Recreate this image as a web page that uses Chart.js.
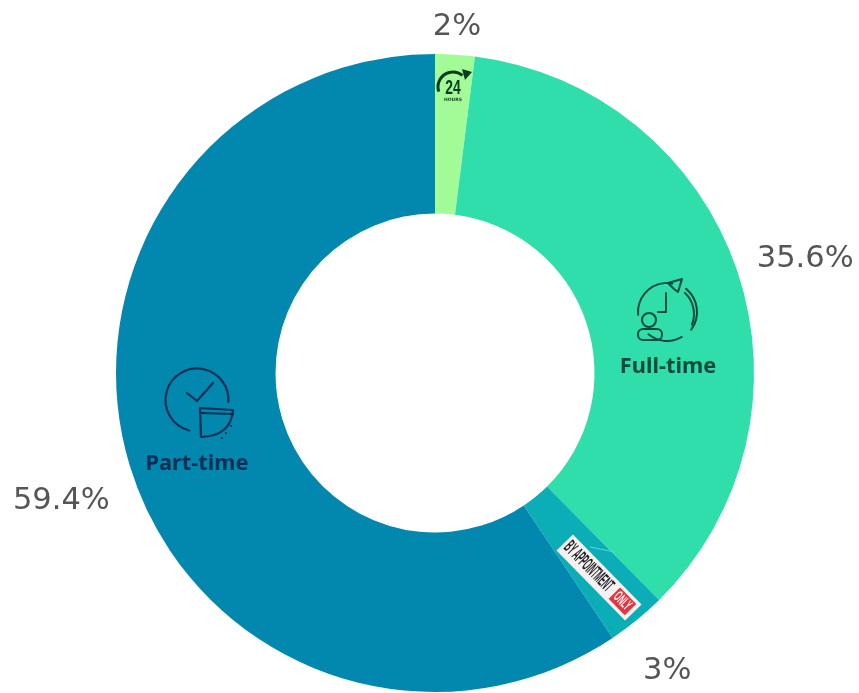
<!DOCTYPE html>
<html>
<head>
<meta charset="utf-8">
<style>html,body{margin:0;padding:0;background:#fff}canvas{display:block}</style>
<script src="https://cdn.jsdelivr.net/npm/chart.js@4/dist/chart.umd.min.js"></script>
</head>
<body>
<canvas id="c" width="859" height="693"></canvas>
<script>
const categories = ["24 hours", "Full-time", "By appointment only", "Part-time"];
const shares = [2, 35.6, 3, 59.4];
const valueLabels = ["2%", "35.6%", "3%", "59.4%"];
const sliceColors = ["#A3FB98", "#30DEAB", "#0BADB7", "#0288AE"];
const labelRadii = [349, 388, 376, 394];
const labelAngleNudges = [0, 1.3, 1.1, -1.6];

function icon24(ctx, x, y) {
  ctx.save();
  ctx.translate(x, y);
  ctx.strokeStyle = "#0c3b22"; ctx.fillStyle = "#0c3b22";
  ctx.lineWidth = 3;
  ctx.beginPath(); ctx.arc(0, 1, 15, Math.PI * 0.9, Math.PI * 1.72); ctx.stroke();
  ctx.beginPath(); ctx.moveTo(9, -17); ctx.lineTo(19, -14); ctx.lineTo(12, -6); ctx.closePath(); ctx.fill();
  ctx.save();
  ctx.translate(0, 3); ctx.scale(0.82, 1.15);
  ctx.font = 'bold 17px "Liberation Sans", sans-serif';
  ctx.textAlign = "center"; ctx.textBaseline = "middle";
  ctx.fillText("24", 0, 0);
  ctx.restore();
  ctx.font = 'bold 4.5px "DejaVu Sans", sans-serif';
  ctx.textAlign = "center"; ctx.textBaseline = "middle";
  ctx.fillText("HOURS", 0, 14);
  ctx.restore();
}

function iconFull(ctx, x, y) {
  ctx.save();
  ctx.translate(x, y);
  ctx.strokeStyle = "#0d4a3e"; ctx.lineWidth = 2; ctx.lineCap = "round"; ctx.lineJoin = "round";
  ctx.beginPath(); ctx.arc(0, 0, 29, Math.PI * 0.33, Math.PI * 0.72, false); ctx.stroke();
  ctx.beginPath(); ctx.arc(0, 0, 29, Math.PI * 0.97, Math.PI * 1.56, false); ctx.stroke();
  ctx.beginPath(); ctx.arc(0, 0, 30, Math.PI * 1.72, Math.PI * 0.2, false); ctx.stroke();
  ctx.beginPath(); ctx.arc(-2, 2, 29, Math.PI * 1.74, Math.PI * 0.12, false); ctx.stroke();
  ctx.beginPath(); ctx.moveTo(-1, -19); ctx.lineTo(-1, 0); ctx.lineTo(-9, 0); ctx.stroke();
  ctx.beginPath(); ctx.moveTo(1, -29); ctx.lineTo(15, -33); ctx.lineTo(11, -20); ctx.lineTo(7, -23); ctx.closePath(); ctx.stroke();
  ctx.beginPath(); ctx.arc(-18, 8, 7, 0, Math.PI * 2); ctx.stroke();
  ctx.beginPath(); ctx.roundRect(-29, 17, 24, 11, 5); ctx.stroke();
  ctx.restore();
}

function iconPart(ctx, x, y) {
  ctx.save();
  ctx.translate(x, y);
  ctx.strokeStyle = "#0b2f55"; ctx.lineWidth = 2.2; ctx.lineCap = "round"; ctx.lineJoin = "round";
  ctx.beginPath(); ctx.arc(0, 0, 31.5, Math.PI * 0.58, Math.PI * 2.02, false); ctx.stroke();
  ctx.beginPath(); ctx.moveTo(-10, -7); ctx.lineTo(0, 1); ctx.lineTo(16, -17); ctx.stroke();
  ctx.beginPath(); ctx.moveTo(3, 8); ctx.lineTo(4, 37); ctx.quadraticCurveTo(34, 36, 36, 10); ctx.closePath(); ctx.stroke();
  ctx.beginPath(); ctx.moveTo(4, 13); ctx.lineTo(36, 14); ctx.stroke();
  ctx.fillStyle = "#0b2f55";
  [[34, 26], [29, 33], [25, 38]].forEach(function (p) {
    ctx.beginPath(); ctx.arc(p[0], p[1], 1.1, 0, Math.PI * 2); ctx.fill();
  });
  ctx.restore();
}

function badge(ctx, x, y) {
  ctx.save();
  ctx.translate(x, y);
  ctx.rotate(Math.PI / 4 + 0.01);
  ctx.fillStyle = "#f6f1f1";
  ctx.fillRect(-49, -11.5, 98, 23);
  ctx.fillStyle = "#e8323f";
  ctx.fillRect(22, -8, 23, 16);
  ctx.textBaseline = "middle"; ctx.textAlign = "left";
  ctx.save();
  ctx.translate(-46, 0); ctx.scale(0.63, 1.75);
  ctx.fillStyle = "#1f1f26";
  ctx.font = 'bold 11px "Liberation Sans", sans-serif';
  ctx.fillText("BY APPOINTMENT", 0, 0);
  ctx.restore();
  ctx.save();
  ctx.translate(24, 0); ctx.scale(0.62, 1.4);
  ctx.fillStyle = "#fff";
  ctx.font = 'bold 11px "Liberation Sans", sans-serif';
  ctx.fillText("ONLY", 0, 0);
  ctx.restore();
  ctx.restore();
}

const decorations = {
  id: "decorations",
  afterDatasetsDraw(chart) {
    const ctx = chart.ctx;
    const arcs = chart.getDatasetMeta(0).data;
    const cx = arcs[0].x, cy = arcs[0].y;

    ctx.save();
    ctx.strokeStyle = "#57d6dc"; ctx.lineWidth = 1;
    ctx.beginPath(); ctx.moveTo(cx + 155, cy + 174); ctx.lineTo(cx + 180, cy + 179); ctx.stroke();

    icon24(ctx, cx + 18, cy - 287);
    iconFull(ctx, cx + 232, cy - 61);
    iconPart(ctx, cx - 238, cy + 27);
    badge(ctx, cx + 164, cy + 204.5);

    ctx.textAlign = "center"; ctx.textBaseline = "middle";
    ctx.font = 'bold 21.8px "Noto Sans", sans-serif';
    ctx.fillStyle = "#0d4a3e";
    ctx.fillText(categories[1], cx + 233, cy - 6);
    ctx.fillStyle = "#0b2f55";
    ctx.fillText(categories[3], cx - 238, cy + 91);

    ctx.font = '30.5px "DejaVu Sans", sans-serif';
    ctx.fillStyle = "#555555";
    arcs.forEach(function (a, i) {
      const mid = (a.startAngle + a.endAngle) / 2 + labelAngleNudges[i] * Math.PI / 180;
      ctx.fillText(valueLabels[i], cx + Math.cos(mid) * labelRadii[i], cy + Math.sin(mid) * labelRadii[i] + 2.5);
    });
    ctx.restore();
  }
};

new Chart(document.getElementById("c"), {
  type: "doughnut",
  data: {
    labels: categories,
    datasets: [{ data: shares, backgroundColor: sliceColors, borderWidth: 0 }]
  },
  options: {
    responsive: false,
    animation: false,
    cutout: "50%",
    layout: { padding: { left: 116, right: 105, top: 54, bottom: 1 } },
    plugins: { legend: { display: false }, tooltip: { enabled: false } }
  },
  plugins: [decorations]
});
</script>
</body>
</html>
